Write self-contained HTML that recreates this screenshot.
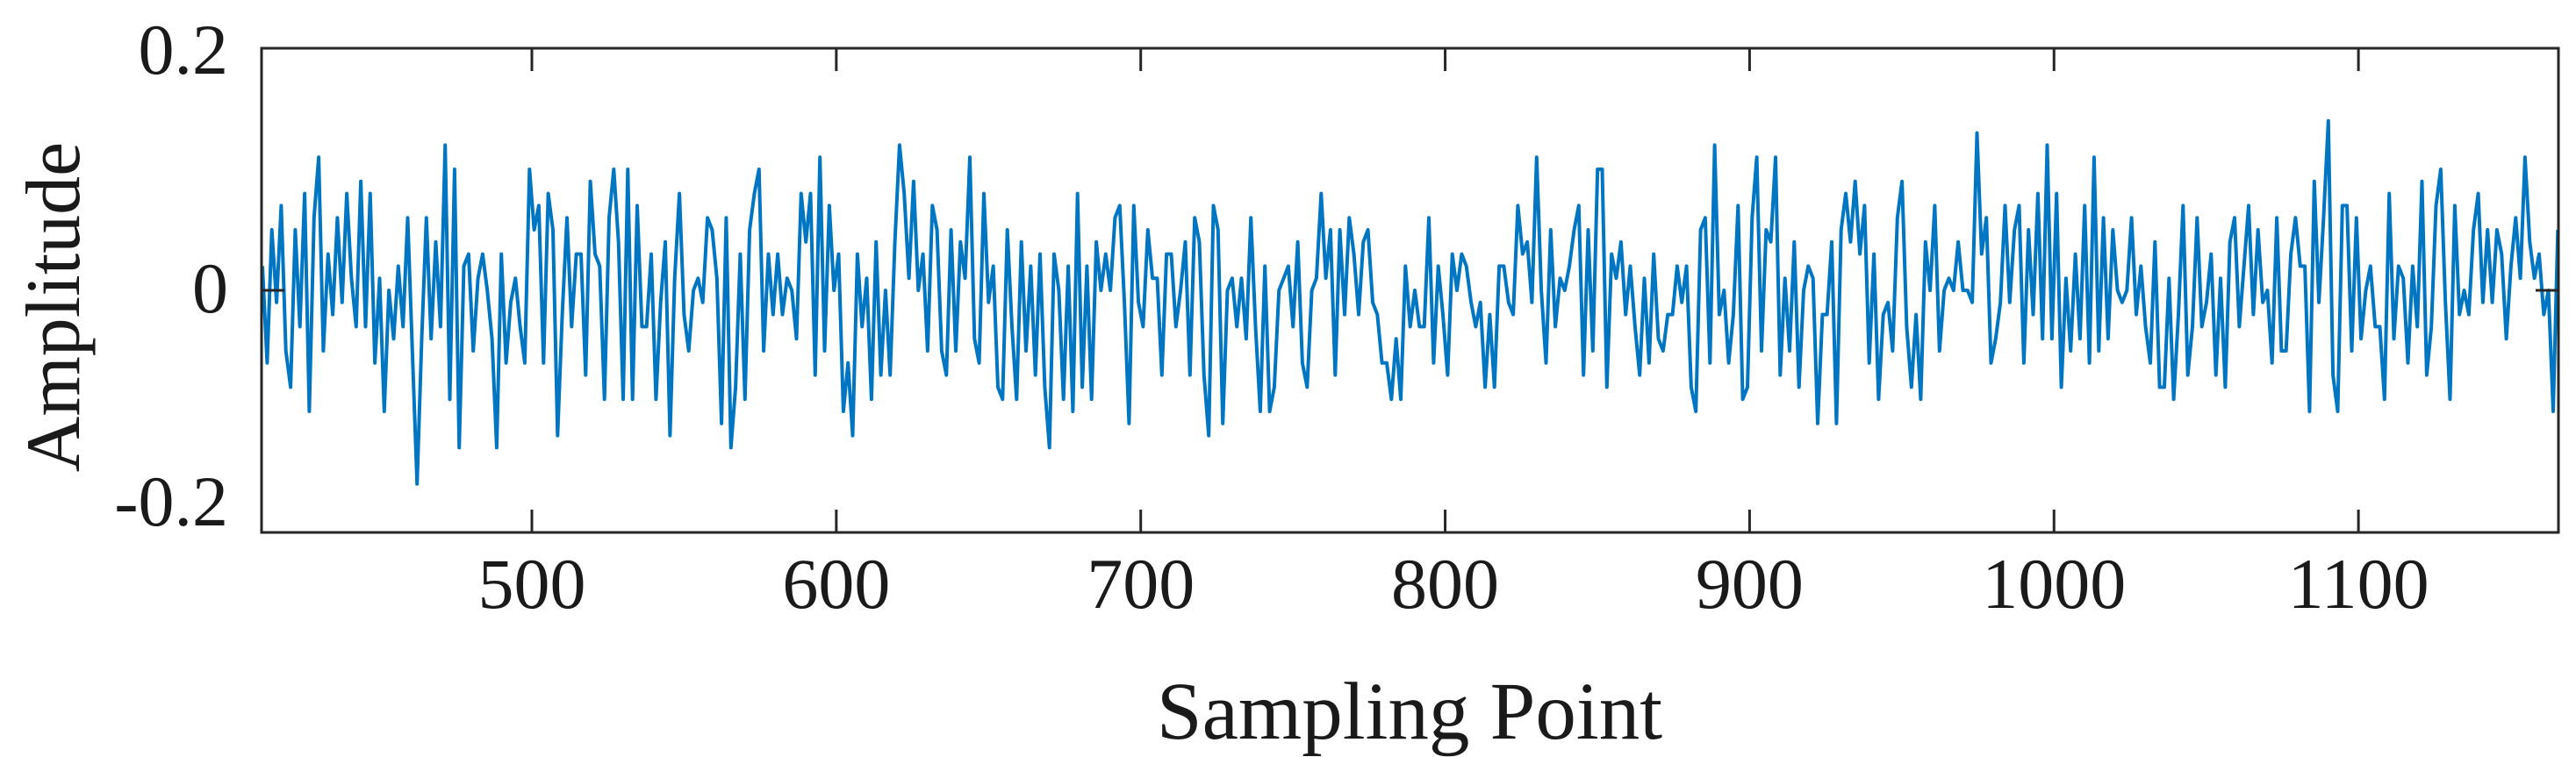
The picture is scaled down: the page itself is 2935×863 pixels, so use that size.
<!DOCTYPE html>
<html><head><meta charset="utf-8">
<style>
html,body{margin:0;padding:0;background:#fff;}
svg{display:block;}
text{font-family:"Liberation Serif","Times New Roman",serif;fill:#1a1a1a;}
</style></head>
<body>
<svg id="chart" width="2935" height="863" viewBox="0 0 2935 863" xmlns="http://www.w3.org/2000/svg">
  <g id="plot"></g>
  <g id="axes"></g>
  <text x="1606" y="842" font-size="93" text-anchor="middle">Sampling Point</text>
  <text x="0" y="0" font-size="88" text-anchor="middle" transform="translate(90,350) rotate(-90)">Amplitude</text>
</svg>
<script>
const xTicks = [500, 600, 700, 800, 900, 1000, 1100];
const xTickLabels = ["500", "600", "700", "800", "900", "1000", "1100"];
const yTicks = [-0.2, 0, 0.2];
const yTickLabels = ["-0.2", "0", "0.2"];
const yLabelBaselines = [599, 356, 84];
const startSample = 411.5;
const endSample = 1165.5;
const amplitude = [
0.02,-0.06,0.05,-0.01,0.07,-0.05,-0.08,0.05,-0.03,0.08,-0.10,0.06,0.11,-0.05,0.03,-0.02,0.06,-0.01,0.08,0.01,
-0.03,0.09,-0.03,0.08,-0.06,0.01,-0.10,0.00,-0.04,0.02,-0.03,0.06,-0.05,-0.16,-0.04,0.06,-0.04,0.04,-0.03,0.12,
-0.09,0.10,-0.13,0.02,0.03,-0.05,0.01,0.03,0.00,-0.04,-0.13,0.03,-0.06,-0.01,0.01,-0.03,-0.06,0.10,0.05,0.07,
-0.06,0.08,0.05,-0.12,-0.02,0.06,-0.03,0.03,0.03,-0.07,0.09,0.03,0.02,-0.09,0.06,0.10,0.04,-0.09,0.10,-0.09,
0.07,-0.03,-0.03,0.03,-0.09,-0.01,0.04,-0.12,0.01,0.08,-0.02,-0.05,0.00,0.01,-0.01,0.06,0.05,0.01,-0.11,0.06,
-0.13,-0.08,0.03,-0.09,0.05,0.08,0.10,-0.05,0.03,-0.02,
0.03,-0.02,0.01,0.00,-0.04,0.08,0.04,0.08,-0.07,0.11,-0.05,0.07,0.00,0.03,-0.10,-0.06,-0.12,0.03,-0.03,0.01,
-0.09,0.04,-0.07,0.00,-0.07,0.04,0.12,0.08,0.01,0.09,0.00,0.03,-0.05,0.07,0.05,-0.05,-0.07,0.05,-0.05,0.04,
0.01,0.11,-0.04,-0.06,0.08,-0.01,0.02,-0.08,-0.09,0.05,-0.03,-0.09,0.04,-0.05,0.02,-0.07,0.03,-0.08,-0.13,0.03,
0.00,-0.09,0.02,-0.10,0.08,-0.08,0.02,-0.09,0.04,0.00,0.03,0.00,0.06,0.07,-0.01,-0.11,0.07,-0.01,-0.03,0.05,
0.01,0.01,-0.07,0.03,0.03,-0.03,0.00,0.04,-0.07,0.06,0.04,-0.07,-0.12,0.07,0.05,-0.11,0.00,0.01,-0.03,0.01,
-0.04,0.06,-0.03,-0.10,0.02,-0.10,-0.08,0.00,0.01,0.02,-0.03,0.04,-0.06,-0.08,0.00,0.01,0.08,0.01,0.05,-0.07,
0.05,-0.02,0.06,0.03,-0.02,0.04,0.05,-0.01,-0.02,-0.06,-0.06,-0.09,
-0.04,-0.09,0.02,-0.03,0.00,-0.03,-0.03,0.06,-0.06,0.02,-0.02,-0.07,0.03,0.00,0.03,0.02,-0.01,-0.03,-0.01,-0.08,
-0.02,-0.08,0.02,0.02,-0.01,-0.02,0.07,0.03,0.04,-0.01,0.11,0.00,-0.06,0.05,-0.03,0.01,0.00,0.02,0.05,0.07,
-0.07,0.05,-0.05,0.10,0.10,-0.08,0.03,0.01,0.04,-0.02,0.02,-0.03,-0.07,0.01,-0.06,0.03,-0.04,-0.05,-0.02,-0.02,
0.02,-0.01,0.02,-0.08,-0.10,0.05,0.06,-0.06,0.12,-0.02,0.00,-0.06,-0.02,0.07,-0.09,-0.08,0.06,0.11,-0.05,0.05,
0.04,0.11,-0.07,0.01,-0.05,0.04,-0.08,0.00,0.02,0.01,-0.11,-0.02,-0.02,0.04,-0.11,0.05,0.08,0.04,0.09,0.03,
0.07,-0.06,0.03,-0.09,-0.02,-0.01,-0.05,0.06,0.09,-0.03,-0.08,-0.02,-0.09,0.04,0.00,0.07,-0.05,0.00,0.01,0.00,
0.04,0.00,0.00,-0.01,0.13,0.03,0.06,-0.06,-0.04,-0.01,0.07,-0.01,0.05,
0.07,-0.06,0.05,-0.02,0.08,-0.04,0.12,-0.04,0.08,-0.08,0.01,-0.05,0.03,-0.04,0.07,-0.06,0.11,-0.05,0.06,-0.04,
0.05,0.00,-0.01,0.00,0.06,-0.02,0.02,-0.03,-0.06,0.04,-0.08,-0.08,0.01,-0.09,-0.02,0.07,-0.07,-0.03,0.06,-0.03,
-0.01,0.03,-0.07,0.01,-0.08,0.04,0.06,-0.03,0.02,0.07,-0.02,0.05,-0.01,0.00,-0.06,0.06,-0.05,-0.05,0.03,0.06,
0.02,0.02,-0.10,0.09,-0.01,0.06,0.14,-0.07,-0.10,0.07,0.07,-0.05,0.06,-0.04,0.00,0.02,-0.03,-0.03,-0.09,0.08,
-0.04,0.02,0.01,-0.06,0.02,-0.03,0.09,-0.07,-0.03,0.07,0.10,-0.01,-0.09,0.07,-0.02,0.00,-0.02,0.05,0.08,-0.01,
0.05,-0.01,0.05,0.03,-0.04,0.02,0.06,0.01,0.11,0.04,0.01,0.03,-0.02,0.00,-0.10,0.05
];

const NS = "http://www.w3.org/2000/svg";
const L = 298, R = 2915, T = 55, B = 607;
const xMin = 411.2, xMax = 1165.7, yMin = -0.2, yMax = 0.2;
function xScale(v){ return L + (v - xMin) / (xMax - xMin) * (R - L); }
function yScale(v){ return B - (v - yMin) / (yMax - yMin) * (B - T); }

const plot = document.getElementById('plot');
const axes = document.getElementById('axes');

const step = (endSample - startSample) / (amplitude.length - 1);
let d = "";
amplitude.forEach((v, i) => {
  const x = xScale(startSample + i * step), y = yScale(v);
  d += (i ? "L" : "M") + x.toFixed(1) + "," + y.toFixed(1);
});
const line = document.createElementNS(NS, "path");


line.setAttribute("d", d);
line.setAttribute("fill", "none");
line.setAttribute("stroke", "#0076c2");
line.setAttribute("stroke-width", "4");
line.setAttribute("stroke-linejoin", "round");
plot.appendChild(line);

const box = document.createElementNS(NS, "rect");


box.setAttribute("x", L); box.setAttribute("y", T);
box.setAttribute("width", R - L); box.setAttribute("height", B - T);
box.setAttribute("fill", "none"); box.setAttribute("stroke", "#262626"); box.setAttribute("stroke-width", "3");
axes.appendChild(box);

const tickLen = 26;
xTicks.forEach((v, i) => {
  const x = xScale(v);
  [[B, B - tickLen], [T, T + tickLen]].forEach(([a, b]) => {
    const t = document.createElementNS(NS, "line");
    
    
    t.setAttribute("x1", x); t.setAttribute("x2", x);
    t.setAttribute("y1", a); t.setAttribute("y2", b);
    t.setAttribute("stroke", "#262626"); t.setAttribute("stroke-width", "3");
    axes.appendChild(t);
  });
  const lbl = document.createElementNS(NS, "text");
  
  
  lbl.setAttribute("x", x); lbl.setAttribute("y", 693);
  lbl.setAttribute("font-size", "82"); lbl.setAttribute("text-anchor", "middle");
  lbl.textContent = xTickLabels[i];
  axes.appendChild(lbl);
});
yTicks.forEach((v, i) => {
  const y = yScale(v);
  [[L, L + tickLen], [R, R - tickLen]].forEach(([a, b]) => {
    const t = document.createElementNS(NS, "line");
    
    
    t.setAttribute("x1", a); t.setAttribute("x2", b);
    t.setAttribute("y1", y); t.setAttribute("y2", y);
    t.setAttribute("stroke", "#262626"); t.setAttribute("stroke-width", "3");
    axes.appendChild(t);
  });
  const lbl = document.createElementNS(NS, "text");
  
  
  lbl.setAttribute("x", 260); lbl.setAttribute("y", yLabelBaselines[i]);
  lbl.setAttribute("font-size", "82"); lbl.setAttribute("text-anchor", "end");
  lbl.textContent = yTickLabels[i];
  axes.appendChild(lbl);
});
</script>
</body></html>
